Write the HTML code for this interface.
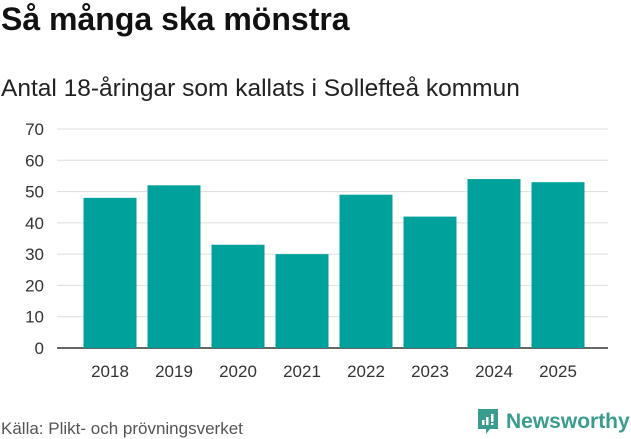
<!DOCTYPE html>
<html><head><meta charset="utf-8"><style>
body{margin:0;width:631px;height:439px;background:#fff;font-family:"Liberation Sans","DejaVu Sans",sans-serif;overflow:hidden;position:relative}
#title{position:absolute;left:1px;top:1px;font-size:32px;font-weight:bold;color:#111;margin:0;white-space:nowrap}
#sub{position:absolute;left:1px;top:75px;font-size:24.5px;color:#222;white-space:nowrap}
#src{position:absolute;left:1px;top:419px;font-size:17px;color:#555;white-space:nowrap}
#logo{position:absolute;left:476px;top:408px;display:flex;align-items:center;color:#3a9c8e;font-size:21px;font-weight:bold}
</style></head><body>
<h1 id="title">Så många ska mönstra</h1>
<div id="sub">Antal 18-åringar som kallats i Sollefteå kommun</div>
<svg id="chart" width="631" height="439" style="position:absolute;left:0;top:0"></svg>
<div id="src">Källa: Plikt- och prövningsverket</div>
<div id="logo">
<svg width="24" height="28" viewBox="0 0 24 28"><path d="M2 1h20v20h-8l-4 5v-5H2z" fill="#3a9c8e"/><rect x="6" y="12" width="2.5" height="5" fill="#fff"/><rect x="10" y="9" width="2.5" height="8" fill="#fff"/><rect x="15" y="6" width="2.5" height="8" fill="#fff"/><rect x="15" y="15" width="2.5" height="2" fill="#fff"/></svg>
<span style="margin-left:6px">Newsworthy</span></div>
<script>
const categories=["2018","2019","2020","2021","2022","2023","2024","2025"];
const values=[48,52,33,30,49,42,54,53];
const ticks=[0,10,20,30,40,50,60,70];
const svg=document.getElementById('chart');
const NS='http://www.w3.org/2000/svg';
const x0=78,band=64,bw=53,yBase=348,yTop=129,yMax=70,plotL=57,plotR=608;
const y=v=>yBase-(v/yMax)*(yBase-yTop);
const xb=i=>x0+i*band+(band-bw)/2;
function mk(t,a){const e=document.createElementNS(NS,t);for(const k in a)e.setAttribute(k,a[k]);svg.appendChild(e);return e;}
ticks.forEach(t=>{
 const l=mk('line',{x1:plotL,x2:plotR,y1:y(t),y2:y(t),stroke:t===0?'#333':'#ddd','stroke-width':t===0?1.5:1});
 
 
 const tx=mk('text',{x:44,y:y(t)+6,'text-anchor':'end','font-size':17,fill:'#333','font-family':'Liberation Sans, sans-serif'});
 tx.textContent=t;
 
 
});
values.forEach((v,i)=>{
 const r=mk('rect',{x:xb(i),y:y(v),width:bw,height:yBase-y(v),fill:'#00a19a'});
 
 
 const tx=mk('text',{x:xb(i)+bw/2,y:377,'text-anchor':'middle','font-size':17,fill:'#333','font-family':'Liberation Sans, sans-serif'});
 tx.textContent=categories[i];
 
 
});
</script>
</body></html>
